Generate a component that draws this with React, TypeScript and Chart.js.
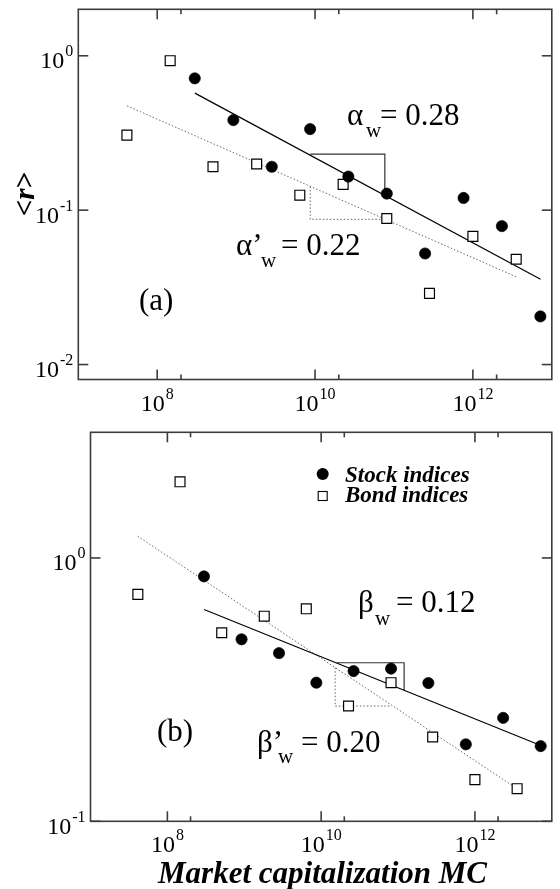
import React, { useEffect, useRef } from "react";
import { Chart, registerables } from "chart.js";

Chart.register(...registerables);

const SERIF = "'Liberation Serif', 'Times New Roman', Times, serif";

// Market capitalization (x) for each index group
const stockMC = [2.99e8, 9.22e8, 2.83e9, 8.66e9, 2.64e10, 8.11e10, 2.48e11, 7.62e11, 2.33e12, 7.17e12];
const bondMC = [4.13e7, 1.46e8, 5.09e8, 1.82e9, 6.41e9, 2.27e10, 8.11e10, 2.82e11, 1.0e12, 3.54e12];

// Panel (a): mean return <r>
const stockMeanR = [0.714, 0.383, 0.191, 0.335, 0.165, 0.128, 0.0524, 0.12, 0.0788, 0.0205];
const bondMeanR = [0.306, 0.929, 0.191, 0.199, 0.125, 0.147, 0.0883, 0.0289, 0.0676, 0.0481];

// Panel (b): volatility sigma(r)
const stockSigma = [0.851, 0.491, 0.435, 0.336, 0.372, 0.38, 0.335, 0.196, 0.247, 0.193];
const bondSigma = [0.727, 1.946, 0.52, 0.601, 0.641, 0.274, 0.336, 0.209, 0.144, 0.133];

// Power-law fits
const meanFitStockMC = [3.0e8, 7.2e12];
const meanFitStockR = [0.573, 0.0357];
const meanFitBondMC = [4.14e7, 3.55e12];
const meanFitBondR = [0.474, 0.037];
const sigmaFitStockMC = [3.0e8, 7.2e12];
const sigmaFitStockS = [0.637, 0.194];
const sigmaFitBondMC = [4.1e7, 3.53e12];
const sigmaFitBondS = [1.21, 0.133];

// Slope triangles
const meanTriStockMC = [8.7e9, 7.66e10, 7.66e10];
const meanTriStockR = [0.2306, 0.2306, 0.125];
const meanTriBondMC = [8.7e9, 8.7e9, 8.11e10];
const meanTriBondR = [0.1426, 0.0872, 0.0872];
const sigmaTriStockMC = [1.6e10, 1.2e11, 1.2e11];
const sigmaTriStockS = [0.4, 0.4, 0.314];
const sigmaTriBondMC = [1.52e10, 1.52e10, 8.11e10];
const sigmaTriBondS = [0.383, 0.274, 0.274];

// Axis ticks
const xMajorTicks = [1e8, 1e10, 1e12];
const xMinorTicks = [2e8, 2e10, 2e12];
const yTicksMean = [0.01, 0.1, 1];
const yTicksSigma = [0.1, 1];

const FRAME = "#3c3c3c";

const pts = (xs: number[], ys: number[]) => xs.map((x, i) => ({ x, y: ys[i] }));

function drawPow(ctx: CanvasRenderingContext2D, v: number, x: number, y: number, align: "center" | "right") {
  const exp = String(Math.round(Math.log10(v)));
  ctx.font = `24px ${SERIF}`;
  const wb = ctx.measureText("10").width;
  ctx.font = `16px ${SERIF}`;
  const ws = ctx.measureText(exp).width;
  const total = wb + ws + 1;
  const start = align === "center" ? x - total / 2 : x - total;
  ctx.font = `24px ${SERIF}`;
  ctx.fillText("10", start, y);
  ctx.font = `16px ${SERIF}`;
  ctx.fillText(exp, start + wb + 1, y - 12);
}

type Piece = { t: string; x: number; y: number; font: string };

function drawPieces(ctx: CanvasRenderingContext2D, pieces: Piece[], dy: number) {
  for (const p of pieces) {
    ctx.font = p.font;
    ctx.fillText(p.t, p.x, p.y - dy);
  }
}

const ANN = `31px ${SERIF}`;
const SUB = `21px ${SERIF}`;

function makePlugin(panel: "a" | "b", dy: number) {
  return {
    id: "frameTicks" + panel,
    afterDraw(chart: any) {
      const { ctx, chartArea: a, scales } = chart;
      const xs = scales.x;
      const ys = scales.y;
      ctx.save();
      ctx.strokeStyle = FRAME;
      ctx.lineWidth = 1.6;
      ctx.strokeRect(a.left, a.top, a.right - a.left, a.bottom - a.top);
      const line = (x1: number, y1: number, x2: number, y2: number) => {
        ctx.beginPath();
        ctx.moveTo(x1, y1);
        ctx.lineTo(x2, y2);
        ctx.stroke();
      };
      for (const v of xMajorTicks) {
        const px = xs.getPixelForValue(v);
        line(px, a.bottom, px, a.bottom - 10);
        line(px, a.top, px, a.top + 10);
      }
      for (const v of xMinorTicks) {
        const px = xs.getPixelForValue(v);
        line(px, a.bottom, px, a.bottom - 5);
        line(px, a.top, px, a.top + 5);
      }
      const yTicks = panel === "a" ? yTicksMean : yTicksSigma;
      for (const v of yTicks) {
        const py = ys.getPixelForValue(v);
        line(a.left, py, a.left + 10, py);
        line(a.right, py, a.right - 10, py);
      }
      ctx.fillStyle = "#000";
      ctx.textAlign = "left";
      ctx.textBaseline = "alphabetic";
      for (const v of xMajorTicks) {
        drawPow(ctx, v, xs.getPixelForValue(v), a.bottom + 31, "center");
      }
      for (const v of yTicks) {
        drawPow(ctx, v, a.left - 5, ys.getPixelForValue(v) + 12.5, "right");
      }

      if (panel === "a") {
        // y title <r>
        ctx.save();
        ctx.translate(33.5, 194);
        ctx.rotate(-Math.PI / 2);
        const parts = [
          { t: "<", f: `bold 29px ${SERIF}` },
          { t: "r", f: `bold italic 29px ${SERIF}` },
          { t: ">", f: `bold 29px ${SERIF}` },
        ];
        let w = 0;
        for (const p of parts) { ctx.font = p.f; w += ctx.measureText(p.t).width; }
        let cx = -w / 2;
        for (const p of parts) { ctx.font = p.f; ctx.fillText(p.t, cx, 0); cx += ctx.measureText(p.t).width; }
        ctx.restore();

        drawPieces(ctx, [
          { t: "α", x: 347, y: 125, font: ANN },
          { t: "w", x: 366, y: 137, font: SUB },
          { t: "= 0.28", x: 380, y: 125, font: ANN },
          { t: "α’", x: 236, y: 255, font: ANN },
          { t: "w", x: 261, y: 267, font: SUB },
          { t: "= 0.22", x: 281, y: 255, font: ANN },
          { t: "(a)", x: 139, y: 310, font: ANN },
        ], dy);
      } else {
        ctx.save();
        ctx.translate(38.5, 626);
        ctx.rotate(-Math.PI / 2);
        const parts = [
          { t: "σ(", f: `bold 29px ${SERIF}` },
          { t: "r", f: `bold italic 29px ${SERIF}` },
          { t: ")", f: `bold 29px ${SERIF}` },
        ];
        let w = 0;
        for (const p of parts) { ctx.font = p.f; w += ctx.measureText(p.t).width; }
        let cx = -w / 2;
        for (const p of parts) { ctx.font = p.f; ctx.fillText(p.t, cx, 0); cx += ctx.measureText(p.t).width; }
        ctx.restore();

        // x title
        ctx.font = `bold italic 31px ${SERIF}`;
        ctx.textAlign = "center";
        ctx.fillText("Market capitalization MC", 322.5, 883 - dy);
        ctx.textAlign = "left";

        drawPieces(ctx, [
          { t: "β", x: 358, y: 611.7, font: ANN },
          { t: "w", x: 375, y: 625, font: SUB },
          { t: "= 0.12", x: 396, y: 611.7, font: ANN },
          { t: "β’", x: 257, y: 751.7, font: ANN },
          { t: "w", x: 278, y: 763, font: SUB },
          { t: "= 0.20", x: 301, y: 751.7, font: ANN },
          { t: "(b)", x: 157, y: 741, font: ANN },
        ], dy);

        // legend
        ctx.fillStyle = "#000";
        ctx.beginPath();
        ctx.arc(322.7, 474 - dy, 6, 0, Math.PI * 2);
        ctx.fill();
        ctx.strokeStyle = "#000";
        ctx.lineWidth = 1.1;
        ctx.strokeRect(318.2, 491.5 - dy, 9, 9);
        ctx.font = `bold italic 23px ${SERIF}`;
        ctx.fillText("Stock indices", 345, 481.7 - dy);
        ctx.fillText("Bond indices", 345, 502 - dy);
      }
      ctx.restore();
    },
  };
}

function makeConfig(panel: "a" | "b") {
  const isA = panel === "a";
  const stockY = isA ? stockMeanR : stockSigma;
  const bondY = isA ? bondMeanR : bondSigma;
  const fitS = isA ? pts(meanFitStockMC, meanFitStockR) : pts(sigmaFitStockMC, sigmaFitStockS);
  const fitB = isA ? pts(meanFitBondMC, meanFitBondR) : pts(sigmaFitBondMC, sigmaFitBondS);
  const triS = isA ? pts(meanTriStockMC, meanTriStockR) : pts(sigmaTriStockMC, sigmaTriStockS);
  const triB = isA ? pts(meanTriBondMC, meanTriBondR) : pts(sigmaTriBondMC, sigmaTriBondS);
  const lineBase = { showLine: true, pointRadius: 0, fill: false, tension: 0 };
  return {
    type: "scatter" as const,
    data: {
      datasets: [
        {
          label: "Stock indices",
          data: pts(stockMC, stockY),
          pointStyle: "circle",
          pointRadius: 5.6,
          backgroundColor: "#000",
          borderColor: "#000",
          borderWidth: 0.7,
          showLine: false,
        },
        {
          label: "Bond indices",
          data: pts(bondMC, bondY),
          pointStyle: "rect",
          pointRadius: 7,
          backgroundColor: "#fff",
          borderColor: "#000",
          borderWidth: 1.2,
          showLine: false,
        },
        { label: "fit stock", data: fitS, ...lineBase, borderColor: "#000", borderWidth: 1.2 },
        { label: "fit bond", data: fitB, ...lineBase, borderColor: "#666", borderWidth: 1, borderDash: [1.5, 2] },
        { label: "tri stock", data: triS, ...lineBase, borderColor: "#333", borderWidth: 1.2 },
        { label: "tri bond", data: triB, ...lineBase, borderColor: "#666", borderWidth: 1, borderDash: [1.5, 2] },
      ],
    },
    options: {
      animation: false as const,
      responsive: false,
      devicePixelRatio: 1,
      layout: {
        padding: isA
          ? { left: 78.3, right: 2, top: 9.3, bottom: 40.5 }
          : { left: 90.5, right: 2, top: 12.3, bottom: 67.7 },
      },
      scales: {
        x: { type: "logarithmic" as const, min: 1e7, max: 1e13, display: false },
        y: isA
          ? { type: "logarithmic" as const, min: 0.008, max: 2, display: false }
          : { type: "logarithmic" as const, min: 0.1, max: 3, display: false },
      },
      plugins: { legend: { display: false }, tooltip: { enabled: false } },
    },
    plugins: [makePlugin(panel, isA ? 0 : 420)],
  };
}

export default function App() {
  const refA = useRef<HTMLCanvasElement | null>(null);
  const refB = useRef<HTMLCanvasElement | null>(null);
  useEffect(() => {
    const ca = new Chart(refA.current as HTMLCanvasElement, makeConfig("a") as any);
    const cb = new Chart(refB.current as HTMLCanvasElement, makeConfig("b") as any);
    return () => {
      ca.destroy();
      cb.destroy();
    };
  }, []);
  return (
    <div style={{ position: "absolute", left: 0, top: 0, width: 560, height: 889, background: "#fff" }}>
      <canvas ref={refA} width={560} height={420} style={{ position: "absolute", left: 0, top: 0, width: 560, height: 420 }} />
      <canvas ref={refB} width={560} height={469} style={{ position: "absolute", left: 0, top: 420, width: 560, height: 469 }} />
    </div>
  );
}
